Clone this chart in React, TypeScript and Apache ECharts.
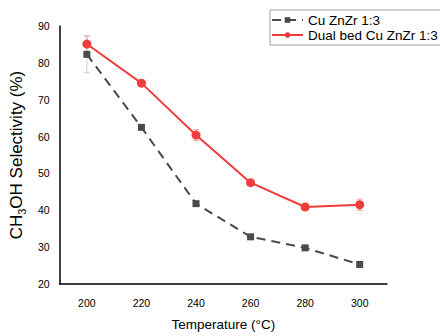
import React, { useEffect, useRef } from "react";
import * as echarts from "echarts";

const categories = ["200", "220", "240", "260", "280", "300"];
const cuZnZr = [82.3, 62.5, 41.8, 32.8, 29.8, 25.3];
const cuZnZrErr = [5.0, 0.4, 0.5, 0.4, 0.4, 0.4];
const dualBed = [85.1, 74.5, 60.4, 47.5, 40.9, 41.5];
const dualBedErr = [2.2, 0.8, 1.5, 0.6, 1.0, 1.5];
const yTicks = { min: 20, max: 90, interval: 10 };

function errorSeries(values: number[], errs: number[], color: string, z: number) {
  return {
    type: "custom",
    silent: true,
    z,
    data: values.map((v, i) => [i, v - errs[i], v + errs[i]]),
    renderItem: (params: any, api: any) => {
      const lo = api.coord([api.value(0), api.value(1)]);
      const hi = api.coord([api.value(0), api.value(2)]);
      const w = 3;
      const style = { stroke: color, lineWidth: 1 };
      return {
        type: "group",
        children: [
          { type: "line", shape: { x1: lo[0], y1: lo[1], x2: hi[0], y2: hi[1] }, style },
          { type: "line", shape: { x1: lo[0] - w, y1: lo[1], x2: lo[0] + w, y2: lo[1] }, style },
          { type: "line", shape: { x1: hi[0] - w, y1: hi[1], x2: hi[0] + w, y2: hi[1] }, style },
        ],
      };
    },
  };
}

export default function App() {
  const ref = useRef<HTMLDivElement>(null);
  useEffect(() => {
    if (!ref.current) return;
    const chart = echarts.init(ref.current, null, { renderer: "svg" });
    const font = "Liberation Sans, Arial, sans-serif";
    chart.setOption({
      animation: false,
      backgroundColor: "#ffffff",
      textStyle: { fontFamily: font },
      grid: { left: 58, right: 53, top: 26, bottom: 44, containLabel: false },
      legend: {
        left: 270,
        top: 10,
        orient: "vertical",
        itemWidth: 31,
        itemHeight: 7,
        itemGap: 1,
        padding: [3, 8, 3, 1],
        borderColor: "#a0a0a0",
        borderWidth: 1,
        borderRadius: 0,
        textStyle: { fontSize: 13.5, color: "#000", fontFamily: font },
        data: [{ name: "Cu ZnZr 1:3" }, { name: "Dual bed Cu ZnZr 1:3" }],
      },
      xAxis: {
        type: "category",
        data: categories,
        boundaryGap: true,
        name: "Temperature (°C)",
        nameLocation: "middle",
        nameGap: 33,
        nameTextStyle: { fontSize: 13.5, color: "#000", fontFamily: font },
        axisLine: { lineStyle: { color: "#000", width: 1.5 } },
        axisTick: { show: false },
        axisLabel: { fontSize: 10.5, color: "#000", margin: 13, fontFamily: font },
        splitLine: { show: false },
      },
      yAxis: {
        type: "value",
        min: yTicks.min,
        max: yTicks.max,
        interval: yTicks.interval,
        name: "CH{sub|3}OH Selectivity (%)",
        nameLocation: "middle",
        nameRotate: 90,
        nameGap: 31,
        nameTextStyle: {
          fontSize: 17,
          color: "#000",
          fontFamily: font,
          rich: {
            sub: { fontSize: 11, color: "#000", fontFamily: font, padding: [10, 0, 0, 0] },
          },
        },
        axisLine: { show: true, lineStyle: { color: "#000", width: 1.5 } },
        axisTick: { show: false },
        axisLabel: { fontSize: 10.5, color: "#000", margin: 10, fontFamily: font },
        splitLine: { show: false },
      },
      series: [
        errorSeries(cuZnZr, cuZnZrErr, "#cccccc", 1),
        errorSeries(dualBed, dualBedErr, "#f5a5a5", 1),
        {
          name: "Cu ZnZr 1:3",
          type: "line",
          data: cuZnZr,
          z: 3,
          symbol: "rect",
          symbolSize: 7,
          itemStyle: { color: "#4a4a4a" },
          lineStyle: { color: "#4a4a4a", width: 2, type: [9, 6] },
        },
        {
          name: "Dual bed Cu ZnZr 1:3",
          type: "line",
          data: dualBed,
          z: 4,
          symbol: "circle",
          symbolSize: 9,
          itemStyle: { color: "#f03c3c" },
          lineStyle: { color: "#f03c3c", width: 2 },
        },
      ],
    });
    return () => chart.dispose();
  }, []);
  return <div ref={ref} style={{ width: 440, height: 336, position: "absolute", left: 0, top: 0 }} />;
}
